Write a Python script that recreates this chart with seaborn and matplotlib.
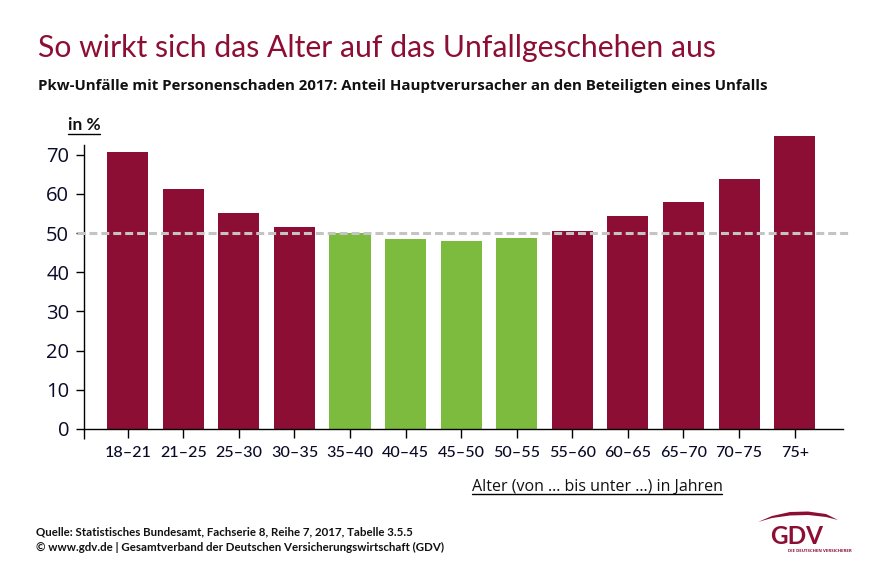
import matplotlib
matplotlib.use('Agg')
import matplotlib.pyplot as plt
import seaborn as sns
from matplotlib.lines import Line2D
from matplotlib.patches import Polygon

W, H = 878, 586

age_groups = ['18–21', '21–25', '25–30', '30–35', '35–40', '40–45', '45–50',
              '50–55', '55–60', '60–65', '65–70', '70–75', '75+']
shares = [70.7, 61.3, 55.2, 51.6, 50.1, 48.6, 48.1, 48.8, 50.6, 54.4, 58.0, 63.9, 74.8]
y_ticks = [0, 10, 20, 30, 40, 50, 60, 70]

RED = '#8C0E34'
GREEN = '#7DBB3F'
bar_colors = [RED] * 4 + [GREEN] * 4 + [RED] * 5
LATO = ['Lato', 'DejaVu Sans']

sns.set_theme(style='white')
plt.rcParams['font.family'] = ['Open Sans', 'DejaVu Sans']


def fx(px):
    return px / W


def fy(px):
    return 1 - px / H


fig = plt.figure(figsize=(W / 100, H / 100), dpi=100)
ax = fig.add_axes([fx(84.5), fy(429), fx(843 - 84.5), (429 - 125.7) / H])

sns.barplot(x=age_groups, y=shares, hue=age_groups, palette=bar_colors, legend=False,
            width=0.74, saturation=1, linewidth=0, ax=ax)

ax.set_xlim(-0.777, 12.87)
ax.set_ylim(0, 77.4)
ax.axhline(50, xmin=-0.01, xmax=1.007, color='#C4C4C4', lw=2.2, dashes=(2.6, 1.3),
           zorder=5, clip_on=False)

sns.despine(ax=ax)
ax.spines['left'].set_bounds(0, 72.4)
ax.spines['left'].set_color('black')
ax.spines['bottom'].set_color('black')
ax.spines['left'].set_linewidth(1)
ax.spines['bottom'].set_linewidth(1)

ax.set_yticks(y_ticks)
ax.tick_params(axis='y', left=True, length=6, width=1, color='black', pad=5,
               labelsize=14.5, labelcolor='#0A0A28')
ax.tick_params(axis='x', bottom=True, length=6.5, width=1, color='black', pad=5.5,
               labelsize=11.6, labelcolor='#0A0A28')
for lab in ax.get_xticklabels():
    lab.set_family(LATO)
    lab.set_fontweight('medium')
# the left spine carries on below the baseline
ax.set_xticks([-0.777], minor=True)
ax.tick_params(axis='x', which='minor', bottom=True, length=7.2, width=1, color='black')
ax.set_xlabel('')
ax.set_ylabel('')

fig.text(fx(38), fy(57), 'So wirkt sich das Alter auf das Unfallgeschehen aus',
         color=RED, fontsize=21.7, family=LATO)
fig.text(fx(38), fy(90), 'Pkw-Unfälle mit Personenschaden 2017: Anteil Hauptverursacher an den Beteiligten eines Unfalls',
         color='#111111', fontsize=10.85, fontweight='bold')

fig.text(fx(68), fy(130), 'in %', color='#111111', fontsize=12.5, fontweight='bold', family=LATO)
fig.add_artist(Line2D([fx(68), fx(100)], [fy(133.5), fy(133.5)], color='black', lw=1))

fig.text(fx(472), fy(491), 'Alter (von ... bis unter ...) in Jahren', color='#111111', fontsize=11.5)
fig.add_artist(Line2D([fx(472), fx(722)], [fy(494), fy(494)], color='black', lw=1))

fig.text(fx(36), fy(535), 'Quelle: Statistisches Bundesamt, Fachserie 8, Reihe 7, 2017, Tabelle 3.5.5',
         color='#111111', fontsize=8.3, fontweight='bold', family=LATO)
fig.text(fx(36), fy(551), '© www.gdv.de | Gesamtverband der Deutschen Versicherungswirtschaft (GDV)',
         color='#111111', fontsize=8.3, fontweight='bold', family=LATO)

# logo
fig.text(fx(770), fy(544), 'GDV', color=RED, fontsize=17.5, fontweight='bold', family=LATO)
fig.text(fx(788), fy(552), 'DIE DEUTSCHEN VERSICHERER', color=RED, fontsize=3.2, fontweight='bold')
arc_top = [(758, 522), (772, 516), (790, 512), (808, 511.5), (826, 514), (838, 520)]
arc_bottom = [(826, 517), (808, 515), (790, 515.5), (772, 518)]
fig.add_artist(Polygon([(fx(x), fy(y)) for x, y in arc_top + arc_bottom], closed=True,
                       transform=fig.transFigure, color=RED, lw=0))

fig.savefig('out.png', dpi=100)
